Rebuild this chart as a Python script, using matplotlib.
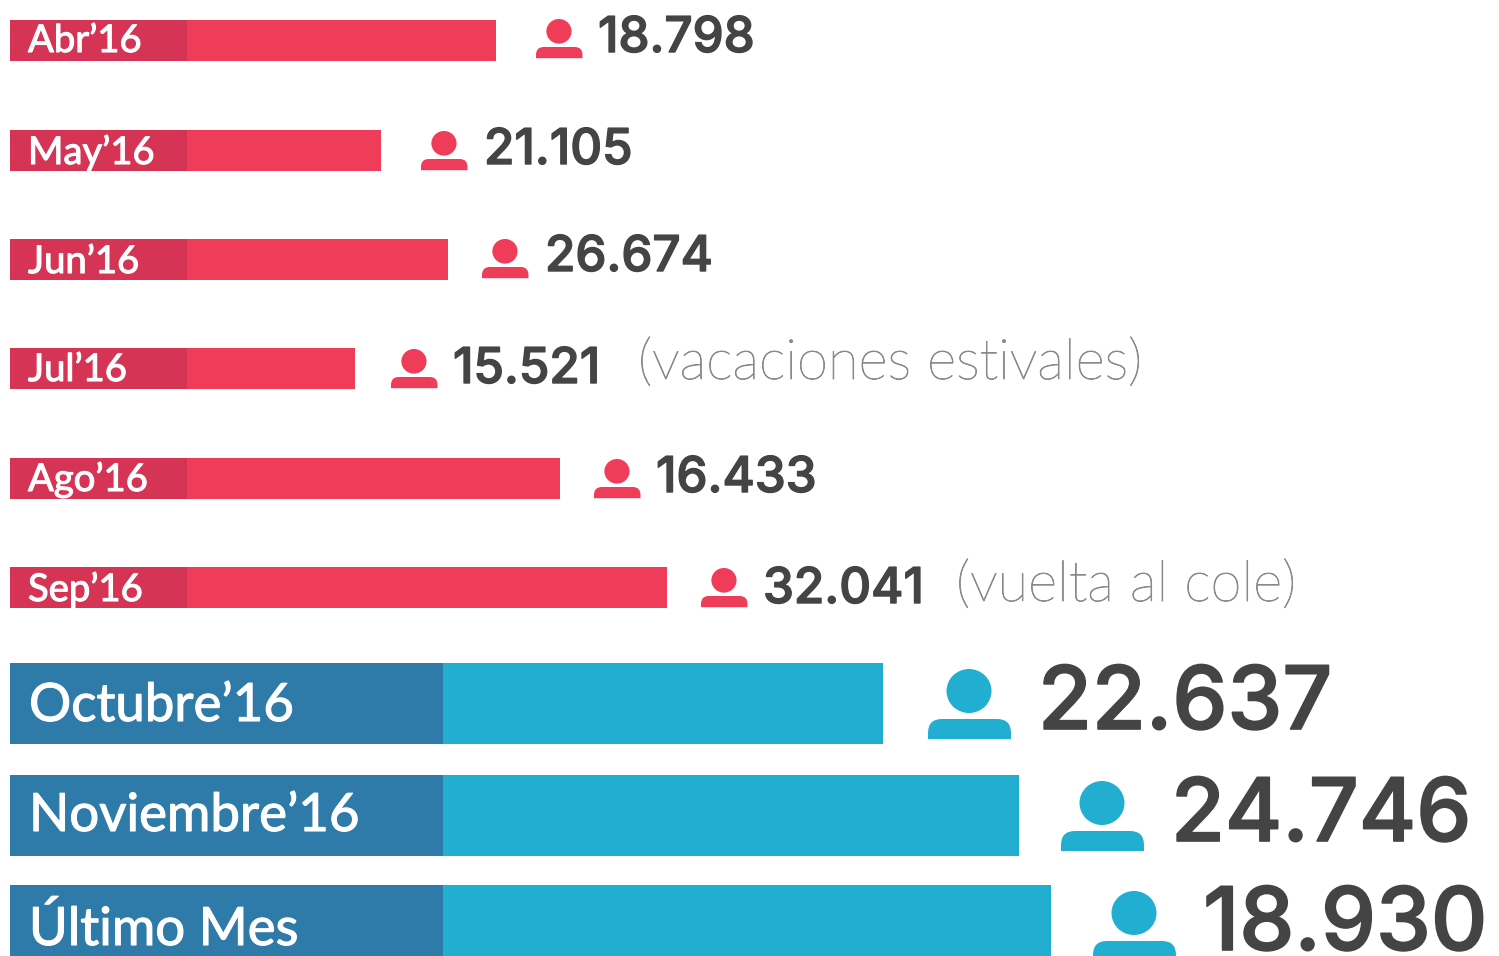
import matplotlib.pyplot as plt
import matplotlib.patheffects as pe
from matplotlib.patches import Ellipse, PathPatch
from matplotlib.path import Path

plt.rcParams["font.family"] = ["Lato", "DejaVu Sans"]

# red monthly rows
small_labels = ["Abr’16", "May’16", "Jun’16", "Jul’16", "Ago’16", "Sep’16"]
small_values = ["18.798", "21.105", "26.674", "15.521", "16.433", "32.041"]
small_lengths = [486, 371, 438, 345, 550, 657]
small_notes = ["", "", "", "(vacaciones estivales)", "", "(vuelta al cole)"]

# blue rows
big_labels = ["Octubre’16", "Noviembre’16", "Último Mes"]
big_values = ["22.637", "24.746", "18.930"]
big_lengths = [873, 1009, 1041]

# layout, in pixels of the 1499x956 picture
X0 = 10
SMALL_TOPS = [20, 130, 239, 348, 458, 567]
SMALL_H = 41
SMALL_LABEL_W = 177
SMALL_ICON_X = [536, 421, 482, 391, 594, 701]
SMALL_ICON_Y = [19, 131, 239, 349, 459, 568]
SMALL_VALUE_X = [598, 484, 545, 453, 656, 763]
SMALL_BASE = [52, 164, 271, 383, 492, 603]
SMALL_LABEL_BASE = [52, 164, 273, 381, 491, 601]
NOTE_X = [0, 0, 0, 638, 0, 956]
NOTE_BASE = [0, 0, 0, 379, 0, 601]

BIG_TOPS = [663, 775, 885]
BIG_H = 81
BIG_LABEL_W = 433
BIG_ICON_X = [928, 1061, 1093]
BIG_VALUE_X = [1038, 1171, 1203]
BIG_BASE = [729, 841, 950]
BIG_LABEL_BASE = [721, 831, 945]

RED, RED_DARK = "#EF3D59", "#D63455"
BLUE, BLUE_DARK = "#22AED1", "#2E7AA8"
TEXT, NOTE = "#444444", "#8A8A8A"


def thick(color, width):
    return [pe.withStroke(linewidth=width, foreground=color)]


def draw_person(ax, left, top, scale, color):
    # head + rounded shoulders, sizes given for the big icon (83 wide)
    ax.add_patch(Ellipse((left + 41 * scale, top + 22 * scale), 45 * scale, 44 * scale,
                         facecolor=color, edgecolor="none"))
    x0, x1 = left, left + 83 * scale
    y0, y1 = top + 50 * scale, top + 70 * scale
    r = 14 * scale
    verts = [(x0, y1), (x0, y0 + r), (x0, y0), (x0 + r, y0), (x1 - r, y0), (x1, y0),
             (x1, y0 + r), (x1, y1), (x0, y1)]
    codes = [Path.MOVETO, Path.LINETO, Path.CURVE3, Path.CURVE3, Path.LINETO, Path.CURVE3,
             Path.CURVE3, Path.LINETO, Path.CLOSEPOLY]
    ax.add_patch(PathPatch(Path(verts, codes), facecolor=color, edgecolor="none"))


fig = plt.figure(figsize=(14.99, 9.56), dpi=100)
ax = fig.add_axes([0, 0, 1, 1])
ax.set_xlim(0, 1499)
ax.set_ylim(956, 0)
ax.axis("off")

for i, label in enumerate(small_labels):
    center = SMALL_TOPS[i] + SMALL_H / 2
    ax.barh(center, small_lengths[i], left=X0, height=SMALL_H, color=RED)
    ax.barh(center, SMALL_LABEL_W, left=X0, height=SMALL_H, color=RED_DARK)
    ax.text(28, SMALL_LABEL_BASE[i], label, color="white", fontsize=27.5, va="baseline",
            path_effects=thick("white", 0.8))
    draw_person(ax, SMALL_ICON_X[i], SMALL_ICON_Y[i], 0.56, RED)
    ax.text(SMALL_VALUE_X[i], SMALL_BASE[i], small_values[i], color=TEXT, fontsize=35.5,
            family="Inter", fontweight="medium", va="baseline", path_effects=thick(TEXT, 1.0))
    if small_notes[i]:
        ax.text(NOTE_X[i], NOTE_BASE[i], small_notes[i], color=NOTE, fontsize=40.5,
                fontweight="light", va="baseline", path_effects=thick(NOTE, 0.6))

for i, label in enumerate(big_labels):
    center = BIG_TOPS[i] + BIG_H / 2
    ax.barh(center, big_lengths[i], left=X0, height=BIG_H, color=BLUE)
    ax.barh(center, BIG_LABEL_W, left=X0, height=BIG_H, color=BLUE_DARK)
    ax.text(29, BIG_LABEL_BASE[i], label, color="white", fontsize=38, va="baseline",
            path_effects=thick("white", 0.8))
    draw_person(ax, BIG_ICON_X[i], BIG_TOPS[i] + 6, 1.0, BLUE)
    ax.text(BIG_VALUE_X[i], BIG_BASE[i], big_values[i], color=TEXT, fontsize=63,
            family="Inter", fontweight="medium", va="baseline", path_effects=thick(TEXT, 1.2))

fig.savefig("out.png", dpi=100)
plt.close(fig)
